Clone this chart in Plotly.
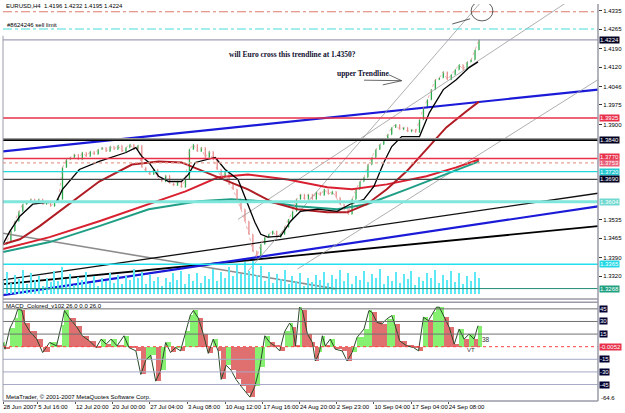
import plotly.graph_objects as go

# ---------------- data ----------------
bar_x = list(range(3, 484, 4))
closes = [
    1.3442, 1.3450, 1.3492, 1.3530, 1.3568, 1.3595, 1.3602, 1.3614, 1.3599, 1.3614,
    1.3595, 1.3606, 1.3587, 1.3602, 1.3614, 1.3736, 1.3766, 1.3774, 1.3786, 1.3766,
    1.3793, 1.3778, 1.3797, 1.3786, 1.3805, 1.3812, 1.3797, 1.3816, 1.3805, 1.3820,
    1.3797, 1.3812, 1.3824, 1.3805, 1.3820, 1.3736, 1.3721, 1.3709, 1.3728, 1.3698,
    1.3682, 1.3705, 1.3675, 1.3667, 1.3682, 1.3660, 1.3690, 1.3805, 1.3824, 1.3797,
    1.3812, 1.3774, 1.3797, 1.3766, 1.3728, 1.3698, 1.3721, 1.3671, 1.3652, 1.3614,
    1.3576, 1.3530, 1.3480, 1.3415, 1.3392, 1.3442, 1.3469, 1.3480, 1.3492, 1.3469,
    1.3480, 1.3507, 1.3537, 1.3568, 1.3614, 1.3633, 1.3614, 1.3633, 1.3614, 1.3641,
    1.3629, 1.3652, 1.3633, 1.3644, 1.3621, 1.3595, 1.3576, 1.3557, 1.3614, 1.3652,
    1.3682, 1.3698, 1.3747, 1.3774, 1.3805, 1.3824, 1.3843, 1.3862, 1.3889, 1.3900,
    1.3881, 1.3889, 1.3873, 1.3881, 1.3870, 1.3919, 1.3965, 1.3995, 1.4034, 1.4072,
    1.4079, 1.4102, 1.4072, 1.4091, 1.4110, 1.4129, 1.4110, 1.4140, 1.4148, 1.4186,
    1.4224,
]
volume = [
    520, 880, 430, 760, 610, 940, 380, 820, 560, 700,
    300, 650, 480, 900, 520, 1050, 600, 780, 350, 690,
    540, 860, 420, 720, 300, 640, 510, 830, 450, 760,
    380, 700, 560, 980, 620, 880, 400, 760, 520, 690,
    330, 620, 480, 840, 560, 920, 410, 780, 500, 850,
    440, 720, 600, 1000, 520, 880, 640, 1080, 720, 1150,
    800, 1250, 900, 1300, 760, 1100, 520, 860, 430, 780,
    600, 940, 380, 700, 520, 820, 300, 640, 480, 760,
    560, 880, 420, 740, 600, 960, 500, 820, 380, 700,
    540, 900, 460, 800, 620, 1000, 400, 720, 520, 860,
    440, 780, 580, 920, 360, 680, 500, 840, 620, 960,
    420, 760, 560, 900, 480, 820, 380, 700, 520, 880,
    640,
]

ma_black_x = [3, 10, 20, 33, 47, 57, 63, 80, 100, 127, 137, 143, 150, 160, 170, 183, 190, 197, 217, 227,
              240, 247, 257, 263, 270, 283, 293, 303, 320, 340, 353, 367, 377, 387, 395, 405, 423, 433, 447, 460, 473, 482]
ma_black_y = [1.3442, 1.3492, 1.3549, 1.3595, 1.3602, 1.3606, 1.3652, 1.3728, 1.3759, 1.3793, 1.3812, 1.3778,
              1.3755, 1.3702, 1.3682, 1.3682, 1.3709, 1.3755, 1.3774, 1.3728, 1.3690, 1.3625, 1.3526, 1.3480,
              1.3469, 1.3473, 1.3530, 1.3568, 1.3576, 1.3568, 1.3595, 1.3614, 1.3663, 1.3755, 1.3816, 1.3854,
              1.3854, 1.3946, 1.4034, 1.4072, 1.4118, 1.4140]
ma_dred_x = [3, 20, 40, 67, 100, 133, 160, 183, 217, 250, 275, 300, 330, 350, 370, 390, 410, 430, 450, 470, 483]
ma_dred_y = [1.3442, 1.3461, 1.3511, 1.3587, 1.3682, 1.3747, 1.3759, 1.3755, 1.3702, 1.3652, 1.3602, 1.3576,
             1.3564, 1.3564, 1.3595, 1.3652, 1.3721, 1.3805, 1.3889, 1.3950, 1.3988]
ma_red_x = [3, 50, 100, 143, 187, 220, 250, 290, 330, 355, 390, 430, 460, 483]
ma_red_y = [1.3423, 1.3469, 1.3530, 1.3587, 1.3644, 1.3698, 1.3709, 1.3690, 1.3660, 1.3652, 1.3671, 1.3702,
            1.3736, 1.3766]
ma_teal_x = [3, 50, 100, 150, 200, 233, 267, 300, 340, 370, 410, 450, 483]
ma_teal_y = [1.3412, 1.3450, 1.3511, 1.3576, 1.3606, 1.3614, 1.3606, 1.3587, 1.3576, 1.3595, 1.3652, 1.3709,
             1.3759]

# trend lines (x, price) end points
tl_blue_up = ([3, 603], [1.3797, 1.4034])
tl_grey_down = ([3, 340], [1.3484, 1.3270])
tl_upper = ([250, 485], [1.3339, 1.4369])
tl_chan_hi = ([240, 575], [1.3537, 1.4377])
tl_chan_lo = ([300, 603], [1.3347, 1.4072])
tl_black1 = ([3, 603], [1.3305, 1.3637])
tl_blue2 = ([3, 603], [1.3247, 1.3587])
tl_black2 = ([3, 603], [1.3289, 1.3511])

price_ticks = [1.4335, 1.4265, 1.4190, 1.4120, 1.4046, 1.3975, 1.3900, 1.3535, 1.3465, 1.3390, 1.3320]

macd_x = [3, 5, 10, 15, 18, 22, 25, 30, 37, 43, 50, 57, 62, 65, 70, 77, 83, 90, 97, 102, 107, 112, 118, 125,
          130, 137, 142, 147, 152, 157, 162, 167, 172, 177, 182, 187, 192, 195, 200, 205, 210, 215, 220, 223,
          228, 233, 238, 243, 248, 252, 257, 262, 267, 272, 277, 282, 287, 292, 295, 298, 302, 305, 310, 315,
          318, 322, 325, 328, 333, 338, 345, 350, 355, 360, 367, 372, 375, 380, 385, 390, 395, 398, 403, 410,
          417, 422, 427, 432, 437, 440, 443, 448, 453, 458, 463, 468, 473, 478, 482]
macd_v = [5, -3, 22, 34, 45, 43, 28, 18, 9, -7, 5, 1, 26, 43, 34, 24, 13, 7, -1, 9, 3, 9, 1, 13, -1, -5, -33,
          -16, -10, -41, -28, 5, -7, -1, -5, 18, 38, 43, 34, 15, -8, 9, -5, -39, -22, -28, -39, -47, -55, -60,
          -47, -24, 13, 5, 1, -5, 18, 28, 23, 1, 47, 43, 15, 5, -17, -7, 13, 1, 9, -3, -5, -17, -7, 11, 21, 43,
          41, 29, 27, 33, 37, 27, 7, 1, -1, -5, 35, 31, 41, 47, 47, 35, 23, 3, 21, 9, 15, 9, 25]
macd_levels = [45, 30, 15, -15, -30, -45]

date_pos = [3, 38, 76, 113, 151, 189, 227, 265, 302, 339, 377, 415, 452]
date_lab = ["28 Jun 2007", "5 Jul 16:00", "12 Jul 20:00", "20 Jul 00:00", "27 Jul 04:00", "3 Aug 08:00",
            "10 Aug 12:00", "17 Aug 16:00", "24 Aug 20:00", "2 Sep 23:00", "10 Sep 04:00", "17 Sep 04:00",
            "24 Sep 08:00"]

# ---------------- figure ----------------
FONT = "Liberation Sans"
fig = go.Figure()

opens = [closes[0]] + closes[:-1]
highs = [max(o, c) for o, c in zip(opens, closes)]
lows = [min(o, c) for o, c in zip(opens, closes)]

# volume (bottom of price window)
fig.add_trace(go.Bar(x=bar_x, y=volume, yaxis="y3", xaxis="x", marker=dict(color="#5ce8f4", line=dict(width=0)),
                     width=1.2, hoverinfo="skip"))

def line(xs, ys, color, width, dash="solid"):
    fig.add_trace(go.Scatter(x=xs, y=ys, mode="lines", line=dict(color=color, width=width, dash=dash),
                             xaxis="x", yaxis="y", hoverinfo="skip"))

line(*tl_grey_down, "#8c8c8c", 1.6)
line(*tl_black1, "#111111", 1.3)
line(*tl_black2, "#000000", 1.8)
line(*tl_blue2, "#1a1ad8", 2.2)
line(*tl_blue_up, "#1a1ad8", 2.2)
line(*tl_upper, "#9a9a9a", 0.8)
line(*tl_chan_hi, "#9a9a9a", 0.8)
line(*tl_chan_lo, "#9a9a9a", 0.8)

line(ma_teal_x, ma_teal_y, "#1f9e85", 2)
line(ma_red_x, ma_red_y, "#d82030", 2)
line(ma_dred_x, ma_dred_y, "#b01c24", 2)
line(bar_x, closes, "#e89a9a", 0.8, "dot")

fig.add_trace(go.Ohlc(x=bar_x, open=opens, high=highs, low=lows, close=closes, xaxis="x", yaxis="y",
                      increasing=dict(line=dict(color="#2aa84a", width=1.3)),
                      decreasing=dict(line=dict(color="#e68a8a", width=1.3)),
                      tickwidth=0.15, hoverinfo="skip"))
line(ma_black_x, ma_black_y, "#000000", 1.3)

# MACD histogram
widths = [macd_x[i + 1] - macd_x[i] for i in range(len(macd_x) - 1)] + [4]
cols = ["#86f070" if (i == 0 or macd_v[i] >= macd_v[i - 1]) else "#e07070" for i in range(len(macd_v))]
fig.add_trace(go.Bar(x=macd_x, y=macd_v, width=widths, offset=0, xaxis="x2", yaxis="y2",
                     marker=dict(color=cols, line=dict(width=0)), hoverinfo="skip"))
fig.add_trace(go.Scatter(x=macd_x, y=macd_v, mode="lines", line=dict(color="#2a4a2a", width=1),
                         xaxis="x2", yaxis="y2", hoverinfo="skip"))

P_LO, P_HI = 1.32322, 1.43617
M_LO, M_HI = -64.6, 53
PRICE_BOTTOM = 0.257
MACD_TOP = 0.249

shapes = []
def hline(y, color, width, dash="solid", yref="y"):
    shapes.append(dict(type="line", xref="paper", x0=0, x1=1, yref=yref, y0=y, y1=y,
                       line=dict(color=color, width=width, dash=dash), layer="above"))

hline(1.4332, "#e07a6a", 1, "dashdot")
hline(1.4266, "#44dddd", 1, "dashdot")
hline(1.4224, "#a0a0b8", 1.2)
hline(1.3925, "#e8304a", 1.6)
hline(1.3843, "#9a9a9a", 3)
hline(1.3840, "#000000", 1.5)
hline(1.3770, "#e8304a", 1.4)
hline(1.3753, "#e8a090", 1.2, "dot")
hline(1.3720, "#20d8d8", 1.4)
hline(1.3690, "#444444", 1.2)
hline(1.3604, "#7fe6dc", 3)
hline(1.3365, "#22e0ee", 1.6)
hline(1.3272, "#208a70", 1)

for lv in macd_levels:
    hline(lv, "#707070" if lv > 0 else "#a6aac8", 1, yref="y2")
hline(0, "#ff4040", 1, "dot", yref="y2")

# window borders
shapes.append(dict(type="line", xref="paper", yref="paper", x0=0, x1=1, y0=PRICE_BOTTOM, y1=PRICE_BOTTOM,
                   line=dict(color="#9a9aa8", width=1.5)))
shapes.append(dict(type="line", xref="paper", yref="paper", x0=0, x1=1, y0=MACD_TOP, y1=MACD_TOP,
                   line=dict(color="#9a9aa8", width=1.5)))
shapes.append(dict(type="line", xref="paper", yref="paper", x0=0, x1=1, y0=0, y1=0,
                   line=dict(color="#9a9aa8", width=1.5)))
shapes.append(dict(type="line", xref="paper", yref="paper", x0=0, x1=0, y0=0, y1=0.92,
                   line=dict(color="#9a9aa8", width=1)))
shapes.append(dict(type="line", xref="paper", yref="paper", x0=1, x1=1, y0=0, y1=1,
                   line=dict(color="#9a9aa8", width=1.5)))

# circle and small arrows drawn on chart
shapes.append(dict(type="circle", xref="x", yref="y", x0=475, x1=497, y0=1.4297, y1=1.4373,
                   line=dict(color="#333333", width=0.8)))
shapes.append(dict(type="line", xref="x", yref="y", x0=456, x1=474, y0=1.4285, y1=1.4305,
                   line=dict(color="#333333", width=0.8)))
for (x0, y0) in [(367, 1.4070), (392, 1.4091), (386, 1.4052)]:
    shapes.append(dict(type="line", xref="x", yref="y", x0=x0, x1=405, y0=y0, y1=1.4068,
                       line=dict(color="#444444", width=0.8)))

ann = []
def label(text, x, y, size=6, color="#000000", family=FONT, bold=False, xref="x", yref="paper"):
    ann.append(dict(text=("<b>%s</b>" % text) if bold else text, x=x, y=y, xref=xref, yref=yref,
                    xanchor="left", yanchor="middle", showarrow=False,
                    font=dict(size=size, color=color, family=family)))

def box(text, y, bg, fg="#ffffff", yref="y"):
    ann.append(dict(text=text, x=1, xref="paper", xanchor="left", y=y, yref=yref, yanchor="middle",
                    showarrow=False, bgcolor=bg, borderpad=0, xshift=1,
                    font=dict(size=6, color=fg, family=FONT)))

label("EURUSD,H4  1.4196 1.4232 1.4195 1.4224", 4, 0.995)
label("#8624246 sell limit", 5, 0.946)
label("MACD_Colored_v102 26.0 0.0 26.0", 4, 0.239)
label("MetaTrader, © 2001-2007 MetaQuotes Software Corp.", 4, 0.011)
label("will Euro cross this trendline at 1.4350?", 229, 0.874, size=7.5, color="#101030",
      family="Liberation Serif", bold=True)
label("upper Trendline", 338, 0.826, size=7.5, color="#101030", family="Liberation Serif", bold=True)
label("38", 484, 0.156, size=6.5, color="#333333")
label("VT", 469, 0.128, size=6, color="#333333")

box("1.4224", 1.4224, "#000020")
box("1.3925", 1.3925, "#e8304a")
box("1.3840", 1.3840, "#000020")
box("1.3770", 1.3775, "#e8304a")
box("1.3753", 1.3752, "#e8607a")
box("1.3720", 1.3720, "#20c8d0")
box("1.3690", 1.3690, "#000020")
box("1.3604", 1.3604, "#6fd8d0")
box("1.3365", 1.3365, "#22d8e6")
box("1.3268", 1.3272, "#20a080")
for lv in macd_levels:
    box(str(lv), lv, "#000030", yref="y2")
box("-0.0052", 0, "#e8304a", yref="y2")
ann.append(dict(text="-64.6", x=1, xref="paper", xanchor="left", y=-61, yref="y2", yanchor="middle",
                showarrow=False, xshift=1, font=dict(size=6, color="#000000", family=FONT)))

fig.update_layout(
    width=625, height=413, margin=dict(l=3, r=22, t=4, b=12),
    paper_bgcolor="#ffffff", plot_bgcolor="#ffffff", showlegend=False,
    bargap=0, barmode="overlay",
    xaxis=dict(range=[3, 603], domain=[0, 1], anchor="y", showticklabels=False, showgrid=False,
               zeroline=False, rangeslider=dict(visible=False), ticks=""),
    xaxis2=dict(range=[3, 603], domain=[0, 1], anchor="y2", matches="x", showgrid=False, zeroline=False,
                tickvals=date_pos, ticktext=date_lab, ticks="outside", ticklen=2, tickcolor="#555555",
                tickangle=0, ticklabelposition="outside right",
                tickfont=dict(size=6, family=FONT, color="#000000")),
    yaxis=dict(domain=[PRICE_BOTTOM, 1], range=[P_LO, P_HI], side="right", showgrid=False, zeroline=False,
               tickvals=price_ticks, ticktext=["%.4f" % v for v in price_ticks], ticks="outside", ticklen=3,
               tickcolor="#333333", tickfont=dict(size=6, family=FONT, color="#000000")),
    yaxis2=dict(domain=[0, MACD_TOP], range=[M_LO, M_HI], side="right", showgrid=False, zeroline=False,
                showticklabels=False, ticks=""),
    yaxis3=dict(overlaying="y", range=[-200, 11500], visible=False),
    shapes=shapes, annotations=ann,
)

fig.write_html("out.html")
